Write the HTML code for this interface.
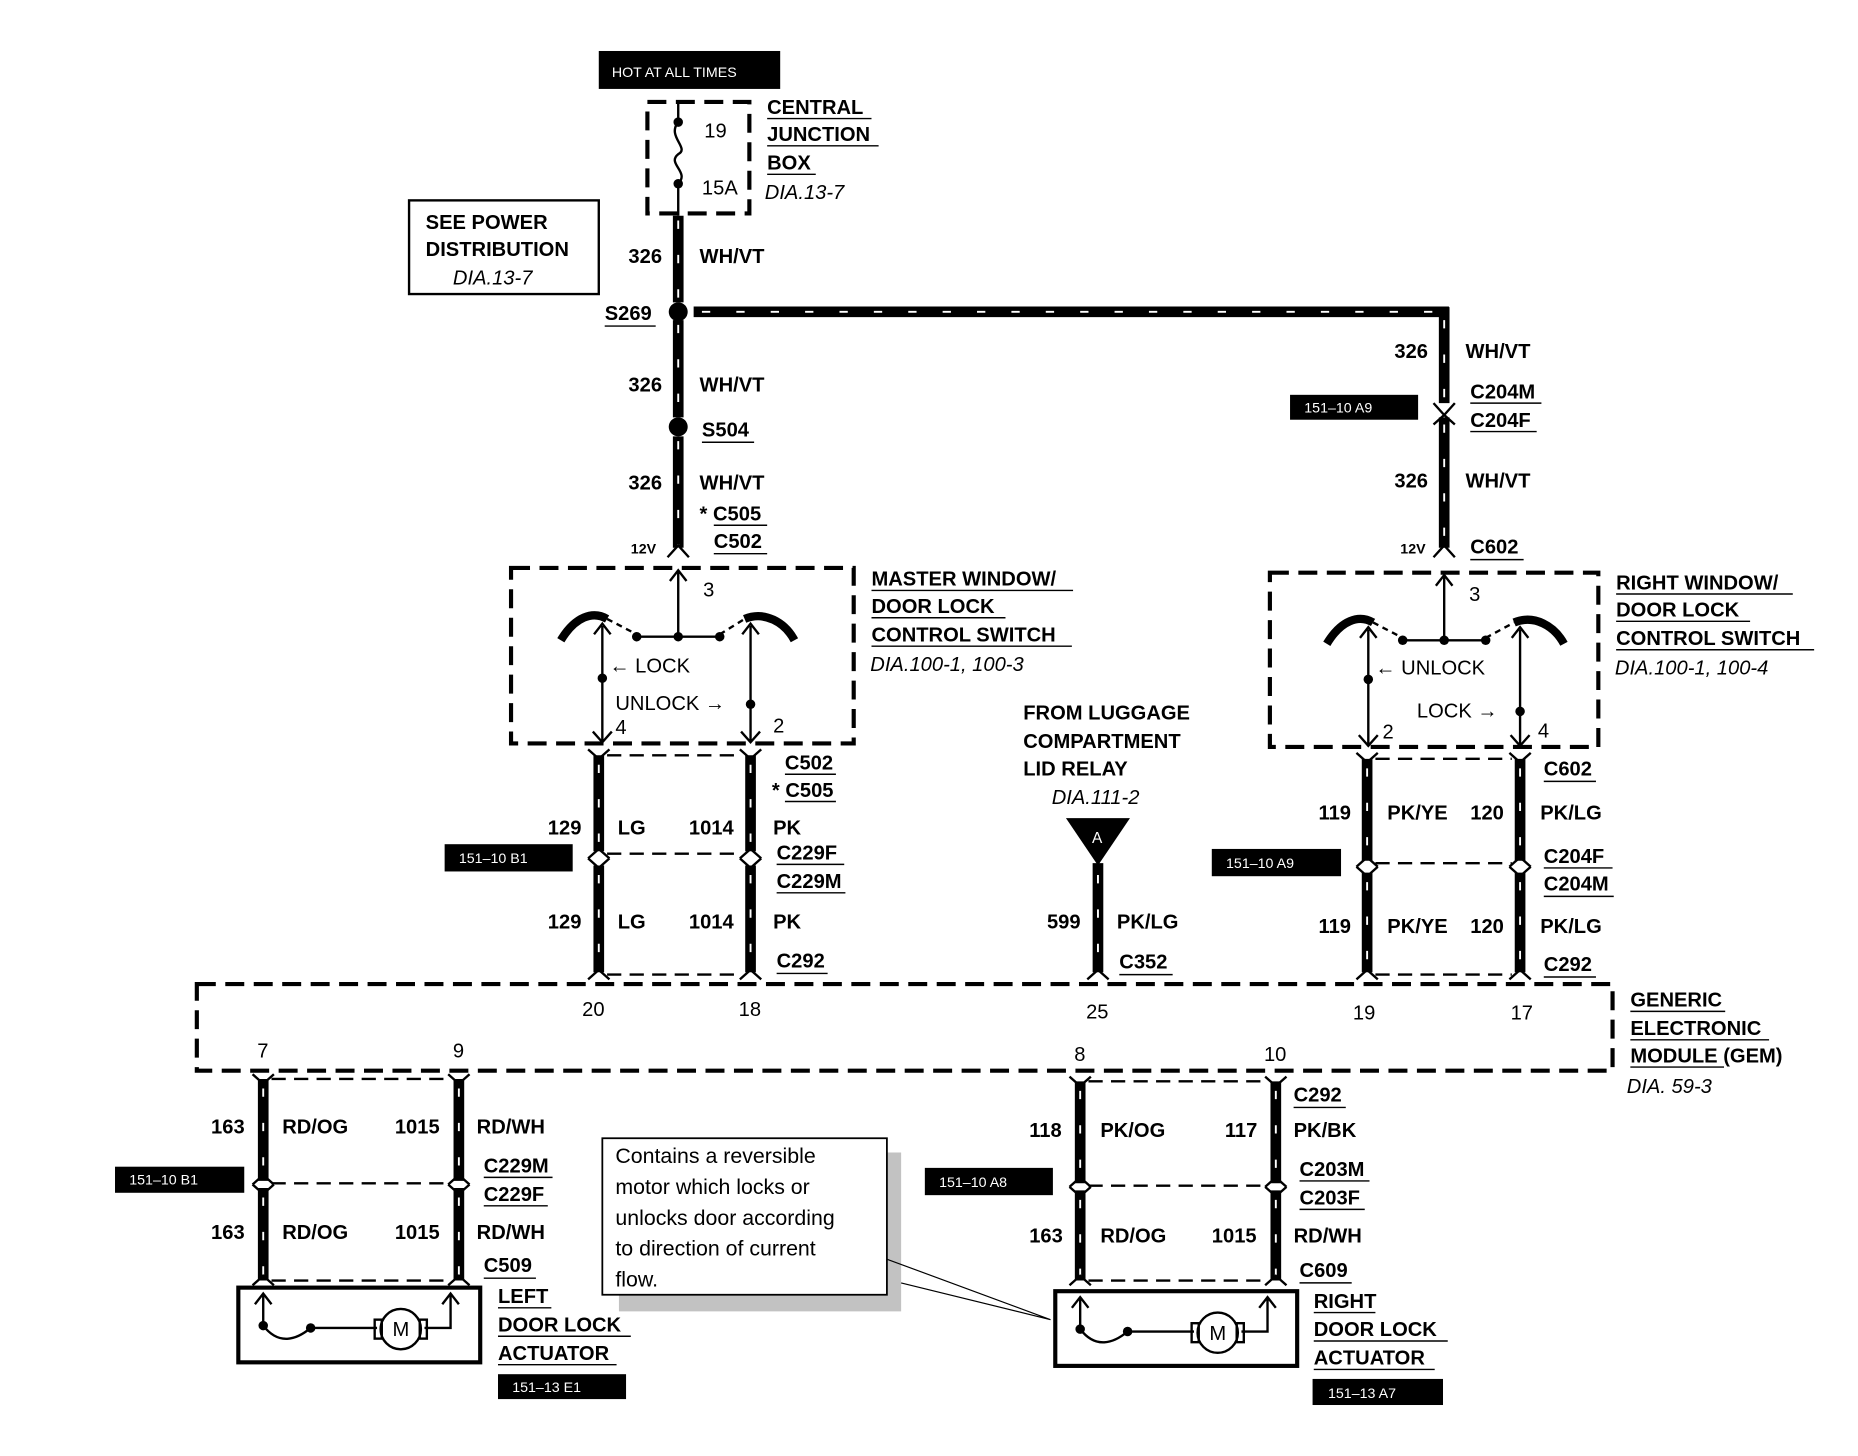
<!DOCTYPE html>
<html><head><meta charset="utf-8"><style>
html,body{margin:0;padding:0;background:#fff}
svg{display:block}
text{font-family:"Liberation Sans",Arial,sans-serif;font-weight:bold;font-size:17px;fill:#000}
.n{font-weight:normal}
.i{font-weight:normal;font-style:italic}
.w{fill:#fff;font-weight:normal;font-size:12px}
.wb{stroke:#000;stroke-width:9;fill:none}
.ws{stroke:#fff;stroke-width:1.6;stroke-dasharray:7 22;fill:none}
.d{stroke:#000;stroke-width:3.5;fill:none;stroke-dasharray:16 8}
.dt{stroke:#000;stroke-width:2;fill:none;stroke-dasharray:12 7}
.l{stroke:#000;stroke-width:2;fill:none}
.u{stroke:#000;stroke-width:1.2}
</style></head><body>
<svg width="1858" height="1456" viewBox="0 0 1567 1228" preserveAspectRatio="none" xmlns="http://www.w3.org/2000/svg">
<rect width="1567" height="1228" fill="#fff"/>
<rect x="505" y="43" width="153" height="32" fill="#000"/>
<text x="516" y="65" class="w">HOT AT ALL TIMES</text>
<rect x="546" y="86" width="86" height="94" class="d"/>
<path d="M572 86 V103 M572 155 V182" class="l"/>
<path d="M572 103 C562 115 582 125 572 130 C562 138 582 145 572 155" class="l"/>
<circle cx="572" cy="103" r="4"/><circle cx="572" cy="155" r="4"/>
<text x="594" y="116" class="n">19</text><text x="592" y="164" class="n">15A</text>
<text x="647" y="96">CENTRAL</text><text x="647" y="119">JUNCTION</text><text x="647" y="143">BOX</text>
<path d="M647 100H735M647 123H741M647 147H688" class="u"/>
<text x="645" y="168" class="i">DIA.13-7</text>
<rect x="345" y="169" width="160" height="79" fill="none" stroke="#000" stroke-width="2"/>
<text x="359" y="193">SEE POWER</text><text x="359" y="216">DISTRIBUTION</text><text x="382" y="240" class="i">DIA.13-7</text>
<g>
<path class="wb" d="M572 182V255M572 270V352M572 368V462M585 263H1222M1218 259V340M1218 352V462M505 637V718M505 730V820M633 637V718M633 730V820M1153 640V726M1153 736V820M1282 640V726M1282 736V820M926 728V820M222 910V996M222 1002V1080M387 910V996M387 1002V1080M911 912V998M911 1004V1080M1076 912V998M1076 1004V1080"/>
<path class="ws" d="M572 186V255M572 274V352M572 372V462M592 263H1215M1218 270V340M1218 358V462M505 645V718M505 738V820M633 645V718M633 738V820M1153 648V726M1153 744V820M1282 648V726M1282 744V820M926 738V820M222 918V996M222 1010V1080M387 918V996M387 1010V1080M911 920V998M911 1012V1080M1076 920V998M1076 1012V1080"/>
</g>
<circle cx="572" cy="263" r="8"/><circle cx="572" cy="360" r="8"/>
<g class="l" stroke-width="2.5">
<path d="M563 470L572 460L581 470M1209 470L1218 460L1227 470M1209 340L1218 350L1227 340M1209 358L1218 350L1227 358"/>
<path d="M496 632L505 640L514 632M624 632L633 640L642 632M496 724L505 716L514 724M624 724L633 716L642 724M496 724L505 732L514 724M624 724L633 732L642 724M496 826L505 818L514 826M624 826L633 818L642 826"/>
<path d="M1144 635L1153 643L1162 635M1273 635L1282 643L1291 635M1144 731L1153 723L1162 731M1273 731L1282 723L1291 731M1144 731L1153 739L1162 731M1273 731L1282 739L1291 731M1144 826L1153 818L1162 826M1273 826L1282 818L1291 826M917 826L926 818L935 826"/>
<path d="M213 906L222 914L231 906M378 906L387 914L396 906M213 999L222 991L231 999M378 999L387 991L396 999M213 999L222 1007L231 999M378 999L387 1007L396 999M213 1084L222 1076L231 1084M378 1084L387 1076L396 1084"/>
<path d="M902 908L911 916L920 908M1067 908L1076 916L1085 908M902 1001L911 993L920 1001M1067 1001L1076 993L1085 1001M902 1001L911 1009L920 1001M1067 1001L1076 1009L1085 1001M902 1084L911 1076L920 1084M1067 1084L1076 1076L1085 1084"/>
</g>
<path class="dt" d="M512 637H626M512 720H626M512 822H626M1160 640H1275M1160 728H1275M1160 822H1275M229 910H380M229 998H380M918 912H1069M918 1000H1069M229 1080H380M918 1080H1069"/>
<text x="530" y="222">326</text><text x="590" y="222">WH/VT</text>
<text x="510" y="270">S269</text><path d="M510 275H553" class="u"/>
<text x="530" y="330">326</text><text x="590" y="330">WH/VT</text>
<text x="592" y="368">S504</text><path d="M592 373H636" class="u"/>
<text x="530" y="413">326</text><text x="590" y="413">WH/VT</text>
<text x="590" y="439">* C505</text><text x="602" y="462">C502</text>
<path d="M602 443H647M602 467H647" class="u"/>
<text x="532" y="467" style="font-size:12px">12V</text>
<text x="1176" y="302">326</text><text x="1236" y="302">WH/VT</text>
<text x="1240" y="336">C204M</text><text x="1240" y="360">C204F</text>
<path d="M1240 340H1300M1240 364H1296" class="u"/>
<rect x="1088" y="333" width="108" height="21" fill="#000"/><text x="1100" y="348" class="w">151–10 A9</text>
<text x="1176" y="411">326</text><text x="1236" y="411">WH/VT</text>
<text x="1181" y="467" style="font-size:12px">12V</text>
<text x="1240" y="467">C602</text><path d="M1240 472H1285" class="u"/>
<rect x="431" y="479" width="289" height="148" class="d"/>
<path d="M572 537V482M565 490L572 481L579 490M537 537H607M508 528V625M633 528V625M500 617L508 626L516 617M625 617L633 626L641 617M501 535L508 526L515 535M626 535L633 526L640 535" class="l"/>
<path d="M473 540C485 520 500 515 512 522M628 522C645 515 662 525 670 540" stroke="#000" stroke-width="7" fill="none"/>
<path d="M512 522L537 535M607 535L628 522" class="l" stroke-dasharray="5 4"/>
<circle cx="537" cy="537" r="4"/><circle cx="572" cy="537" r="4"/><circle cx="607" cy="537" r="4"/>
<circle cx="508" cy="572" r="4"/><circle cx="633" cy="594" r="4"/>
<text x="593" y="503" class="n">3</text>
<text x="514" y="567" class="n">← LOCK</text>
<text x="519" y="599" class="n">UNLOCK →</text>
<text x="519" y="619" class="n">4</text><text x="652" y="618" class="n">2</text>
<text x="735" y="494">MASTER WINDOW/</text><text x="735" y="517">DOOR LOCK</text><text x="735" y="541">CONTROL SWITCH</text>
<path d="M735 498H905M735 521H848M735 545H904" class="u"/>
<text x="734" y="566" class="i">DIA.100-1, 100-3</text>
<rect x="1071" y="483" width="277" height="147" class="d"/>
<path d="M1218 540V486M1211 494L1218 485L1225 494M1183 540H1253M1154 531V628M1282 531V628M1146 620L1154 629L1162 620M1274 620L1282 629L1290 620M1147 538L1154 529L1161 538M1275 538L1282 529L1289 538" class="l"/>
<path d="M1119 543C1131 523 1146 518 1158 525M1277 525C1294 518 1311 528 1319 543" stroke="#000" stroke-width="7" fill="none"/>
<path d="M1158 525L1183 538M1253 538L1277 525" class="l" stroke-dasharray="5 4"/>
<circle cx="1183" cy="540" r="4"/><circle cx="1218" cy="540" r="4"/><circle cx="1253" cy="540" r="4"/>
<circle cx="1154" cy="573" r="4"/><circle cx="1282" cy="600" r="4"/>
<text x="1239" y="507" class="n">3</text>
<text x="1160" y="569" class="n">← UNLOCK</text>
<text x="1195" y="605" class="n">LOCK →</text>
<text x="1166" y="623" class="n">2</text><text x="1297" y="622" class="n">4</text>
<text x="1363" y="497">RIGHT WINDOW/</text><text x="1363" y="520">DOOR LOCK</text><text x="1363" y="544">CONTROL SWITCH</text>
<path d="M1363 501H1512M1363 524H1476M1363 548H1530" class="u"/>
<text x="1362" y="569" class="i">DIA.100-1, 100-4</text>
<text x="462" y="704">129</text><text x="521" y="704">LG</text><text x="581" y="704">1014</text><text x="652" y="704">PK</text>
<text x="662" y="649">C502</text><text x="651" y="672">* C505</text>
<path d="M662 653H705M662 676H705" class="u"/>
<text x="655" y="725">C229F</text><text x="655" y="749">C229M</text>
<path d="M655 729H712M655 753H713" class="u"/>
<rect x="375" y="712" width="108" height="23" fill="#000"/><text x="387" y="728" class="w">151–10 B1</text>
<text x="462" y="783">129</text><text x="521" y="783">LG</text><text x="581" y="783">1014</text><text x="652" y="783">PK</text>
<text x="655" y="816">C292</text><path d="M655 821H698" class="u"/>
<text x="1112" y="691">119</text><text x="1170" y="691">PK/YE</text><text x="1240" y="691">120</text><text x="1299" y="691">PK/LG</text>
<text x="1302" y="654">C602</text><path d="M1302 659H1346" class="u"/>
<text x="1302" y="728">C204F</text><text x="1302" y="751">C204M</text>
<path d="M1302 732H1360M1302 756H1361" class="u"/>
<rect x="1022" y="716" width="109" height="23" fill="#000"/><text x="1034" y="732" class="w">151–10 A9</text>
<text x="1112" y="787">119</text><text x="1170" y="787">PK/YE</text><text x="1240" y="787">120</text><text x="1299" y="787">PK/LG</text>
<text x="1302" y="819">C292</text><path d="M1302 824H1346" class="u"/>
<text x="863" y="607">FROM LUGGAGE</text><text x="863" y="631">COMPARTMENT</text><text x="863" y="654">LID RELAY</text>
<text x="887" y="678" class="i">DIA.111-2</text>
<path d="M899 690H953L926 730Z"/><text x="921" y="711" class="w" style="font-size:13px">A</text>
<text x="883" y="783">599</text><text x="942" y="783">PK/LG</text>
<text x="944" y="817">C352</text><path d="M944 822H989" class="u"/>
<rect x="166" y="830" width="1194" height="73" class="d"/>
<text x="491" y="857" class="n">20</text><text x="623" y="857" class="n">18</text><text x="916" y="859" class="n">25</text><text x="1141" y="860" class="n">19</text><text x="1274" y="860" class="n">17</text>
<text x="217" y="892" class="n">7</text><text x="382" y="892" class="n">9</text><text x="906" y="895" class="n">8</text><text x="1066" y="895" class="n">10</text>
<text x="1375" y="849">GENERIC</text><text x="1375" y="873">ELECTRONIC</text><text x="1375" y="896">MODULE (GEM)</text>
<path d="M1375 853H1455M1375 877H1492M1375 900H1454" class="u"/>
<text x="1372" y="922" class="i">DIA. 59-3</text>
<text x="178" y="956">163</text><text x="238" y="956">RD/OG</text><text x="333" y="956">1015</text><text x="402" y="956">RD/WH</text>
<text x="408" y="989">C229M</text><text x="408" y="1013">C229F</text>
<path d="M408 993H466M408 1017H462" class="u"/>
<rect x="97" y="984" width="109" height="22" fill="#000"/><text x="109" y="999" class="w">151–10 B1</text>
<text x="178" y="1045">163</text><text x="238" y="1045">RD/OG</text><text x="333" y="1045">1015</text><text x="402" y="1045">RD/WH</text>
<text x="408" y="1073">C509</text><path d="M408 1078H452" class="u"/>
<text x="420" y="1099">LEFT</text><text x="420" y="1123">DOOR LOCK</text><text x="420" y="1147">ACTUATOR</text>
<path d="M420 1103H465M420 1127H532M420 1151H520" class="u"/>
<rect x="420" y="1159" width="108" height="21" fill="#000"/><text x="432" y="1174" class="w">151–13 E1</text>
<rect x="201" y="1086" width="204" height="63" fill="none" stroke="#000" stroke-width="3.5"/>
<g class="l">
<path d="M222 1118V1092M215 1100L222 1091L229 1100M222 1118C235 1135 250 1130 262 1120H318M358 1120H380V1092M373 1100L380 1091L387 1100"/>
<circle cx="338" cy="1121" r="17"/><rect x="316" y="1113" width="6" height="16"/><rect x="354" y="1113" width="6" height="16"/>
</g>
<circle cx="222" cy="1118" r="4"/><circle cx="262" cy="1120" r="4"/>
<text x="331" y="1127" class="n">M</text>
<text x="868" y="959">118</text><text x="928" y="959">PK/OG</text><text x="1033" y="959">117</text><text x="1091" y="959">PK/BK</text>
<text x="1091" y="929">C292</text><path d="M1091 934H1135" class="u"/>
<text x="1096" y="992">C203M</text><text x="1096" y="1016">C203F</text>
<path d="M1096 996H1155M1096 1020H1151" class="u"/>
<rect x="780" y="985" width="108" height="23" fill="#000"/><text x="792" y="1001" class="w">151–10 A8</text>
<text x="868" y="1048">163</text><text x="928" y="1048">RD/OG</text><text x="1022" y="1048">1015</text><text x="1091" y="1048">RD/WH</text>
<text x="1096" y="1077">C609</text><path d="M1096 1082H1140" class="u"/>
<text x="1108" y="1103">RIGHT</text><text x="1108" y="1127">DOOR LOCK</text><text x="1108" y="1151">ACTUATOR</text>
<path d="M1108 1107H1160M1108 1131H1221M1108 1155H1210" class="u"/>
<rect x="1107" y="1163" width="110" height="22" fill="#000"/><text x="1120" y="1179" class="w">151–13 A7</text>
<rect x="890" y="1089" width="204" height="63" fill="none" stroke="#000" stroke-width="3.5"/>
<g class="l">
<path d="M911 1121V1095M904 1103L911 1094L918 1103M911 1121C924 1138 939 1133 951 1123H1007M1047 1123H1069V1095M1062 1103L1069 1094L1076 1103"/>
<circle cx="1027" cy="1124" r="17"/><rect x="1005" y="1116" width="6" height="16"/><rect x="1043" y="1116" width="6" height="16"/>
</g>
<circle cx="911" cy="1121" r="4"/><circle cx="951" cy="1123" r="4"/>
<text x="1020" y="1130" class="n">M</text>
<path d="M748 972H760V1106H522V1092H748Z" fill="#999" opacity="0.6"/>
<rect x="508" y="960" width="240" height="132" fill="#fff" stroke="#000" stroke-width="1.5"/>
<path d="M748 1062L886 1113M760 1082L886 1113" stroke="#000" stroke-width="1"/>
<text x="519" y="981" class="n" style="font-size:18px">Contains a reversible</text>
<text x="519" y="1007" class="n" style="font-size:18px">motor which locks or</text>
<text x="519" y="1033" class="n" style="font-size:18px">unlocks door according</text>
<text x="519" y="1059" class="n" style="font-size:18px">to direction of current</text>
<text x="519" y="1085" class="n" style="font-size:18px">flow.</text>
</svg>
</body></html>
